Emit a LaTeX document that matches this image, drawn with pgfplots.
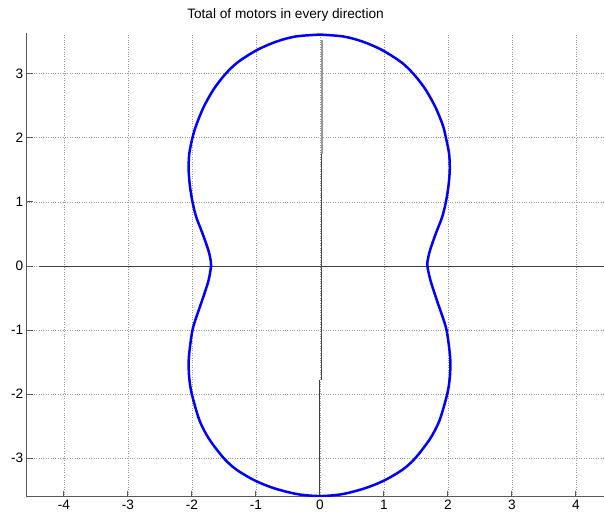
\documentclass[border=0pt]{standalone}
\usepackage{pgfplots}
\pgfplotsset{compat=1.18}
\usepackage{fontspec}
\setmainfont{Liberation Sans}
\definecolor{mblue}{RGB}{0,0,255}
\begin{document}
\begin{tikzpicture}
\path[use as bounding box] (-26.7bp,-19.3bp) rectangle (577.3bp,496.7bp);
\begin{axis}[
  at={(0,0)}, anchor=south west,
  scale only axis,
  width=577.3bp, height=463.4bp,
  xmin=-4.58, xmax=4.44, ymin=-3.60, ymax=3.63,
  axis x line*=bottom, axis y line*=left,
  axis line style={-, black!65, line width=0.8bp},
  xtick={-4,...,4}, ytick={-3,...,3},
  tick align=inside, major tick length=6bp,
  tick style={black!65, line width=0.8bp},
  grid=major, major grid style={dotted, gray!80, line width=0.6bp},
  ticklabel style={font=\fontsize{13.7}{16}\selectfont},
  /pgf/number format/assume math mode=true,
]
% axes through the origin
\addplot[black!75, line width=0.9bp] coordinates {(-4.39,0) (4.5,0)};
\addplot[black!40, line width=1.6bp] coordinates {(0.03,3.52) (0.03,1.75)};
\addplot[black!70, line width=0.6bp] coordinates {(0.02,1.75) (0.02,-1.78)};
\addplot[black!75, line width=0.8bp] coordinates {(0,-1.78) (0,-3.6)};
% total of motors
\addplot[mblue, line width=2.5bp, smooth] coordinates {
(0,3.61) (-0.38,3.58) (-0.68,3.50) (-0.98,3.37) (-1.28,3.18) (-1.47,3.00)
(-1.65,2.77) (-1.81,2.49) (-1.93,2.20) (-1.99,2.00) (-2.04,1.75) (-2.05,1.50)
(-2.03,1.25) (-1.99,1.00) (-1.93,0.76) (-1.83,0.50) (-1.74,0.24) (-1.71,0.11)
(-1.70,0) (-1.74,-0.23) (-1.84,-0.54) (-1.93,-0.80) (-1.99,-1.00) (-2.03,-1.27)
(-2.05,-1.50) (-2.04,-1.75) (-2.00,-2.00) (-1.88,-2.41) (-1.73,-2.70)
(-1.50,-3.00) (-1.30,-3.18) (-1.01,-3.35) (-0.71,-3.47) (-0.35,-3.56) (0,-3.59)
(0.35,-3.56) (0.70,-3.47) (1.00,-3.35) (1.29,-3.18) (1.49,-3.00)
(1.72,-2.70) (1.87,-2.41) (1.99,-2.00) (2.03,-1.75) (2.04,-1.50) (2.02,-1.27)
(1.98,-1.00) (1.92,-0.80) (1.83,-0.54) (1.73,-0.23) (1.68,0) (1.69,0.11)
(1.72,0.24) (1.81,0.50) (1.91,0.76) (1.97,1.00) (2.01,1.25) (2.03,1.50)
(2.02,1.75) (1.97,2.00) (1.92,2.20) (1.80,2.49) (1.64,2.77) (1.46,3.00)
(1.27,3.18) (0.97,3.37) (0.67,3.50) (0.37,3.58) (0,3.61)
};
\end{axis}
\node[anchor=base, font=\fontsize{13.7}{16}\selectfont] at (258.8bp,477.7bp) {Total of motors in every direction};
\end{tikzpicture}
\end{document}
